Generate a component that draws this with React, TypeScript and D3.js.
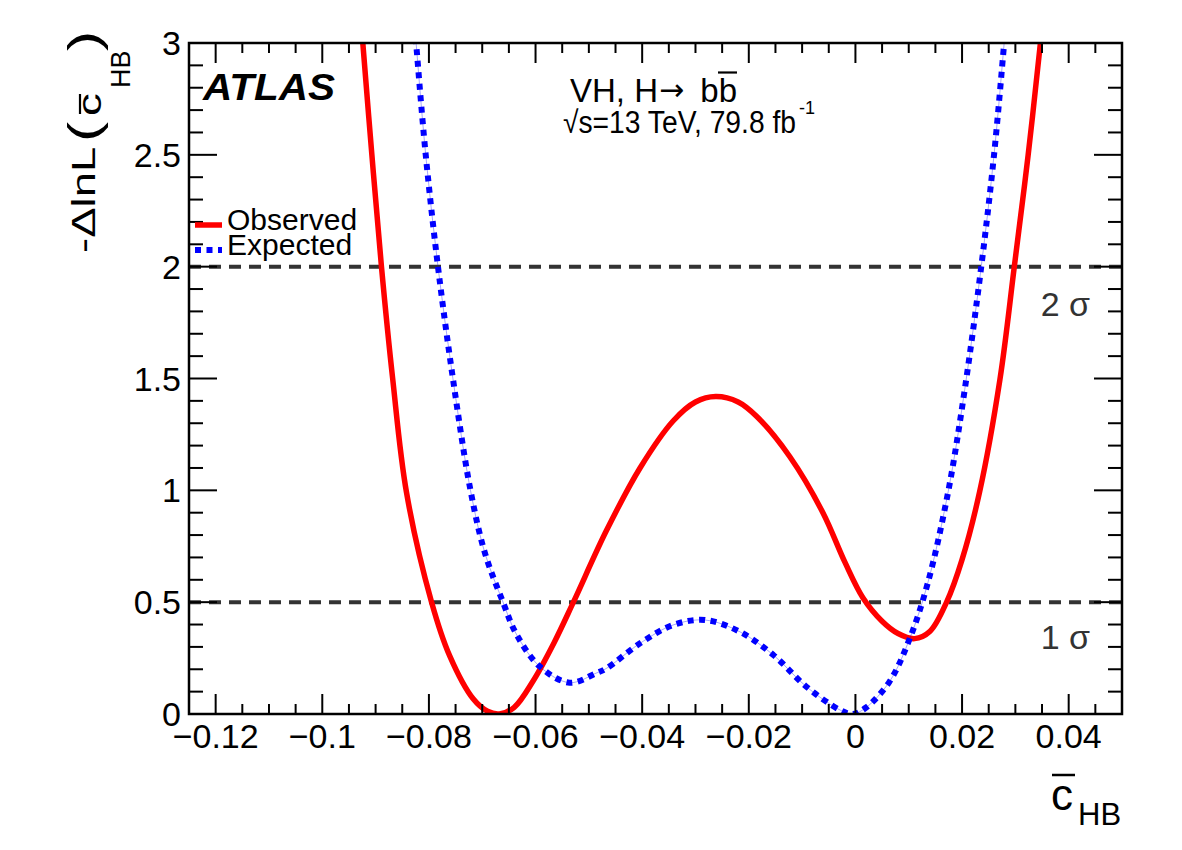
import React from "react";
import * as d3 from "d3";

// Observed curve  (-Delta lnL vs cbar_HB)
const obsX = [-0.0935, -0.0924, -0.0907, -0.0889, -0.0868, -0.0842, -0.0795, -0.0761, -0.0717, -0.0690, -0.0668, -0.0640, -0.0604, -0.0565, -0.0529, -0.0467, -0.0404, -0.0342, -0.0300, -0.0262, -0.0220, -0.0185, -0.0123, -0.0061, -0.0020, 0.0014, 0.0050, 0.0080, 0.0111, 0.0140, 0.0171, 0.0200, 0.0233, 0.0271, 0.0298, 0.0324, 0.0347, 0.0358];
const obsY = [3.32, 3.0, 2.5, 2.0, 1.5, 0.99, 0.5, 0.26, 0.068, 0.012, 0.0, 0.03, 0.15, 0.32, 0.5, 0.82, 1.10, 1.31, 1.395, 1.419, 1.395, 1.33, 1.15, 0.90, 0.68, 0.52, 0.415, 0.36, 0.337, 0.37, 0.5, 0.69, 0.994, 1.495, 2.0, 2.5, 3.0, 3.25];

// Expected curve
const expX = [-0.0835, -0.0824, -0.0806, -0.0783, -0.0755, -0.0722, -0.0695, -0.0661, -0.0636, -0.0592, -0.0536, -0.0486, -0.0467, -0.0404, -0.0342, -0.0282, -0.0217, -0.0154, -0.0092, -0.0029, -0.0005, 0.0020, 0.0064, 0.0102, 0.0136, 0.0174, 0.0205, 0.0236, 0.0260, 0.0279, 0.0288];
const expY = [3.33, 3.0, 2.5, 2.0, 1.5, 1.0, 0.72, 0.5, 0.357, 0.212, 0.14, 0.183, 0.204, 0.316, 0.398, 0.42, 0.368, 0.264, 0.122, 0.018, 0.0, 0.029, 0.145, 0.338, 0.588, 0.994, 1.45, 2.0, 2.5, 3.0, 3.25];

const xTicks = [-0.12, -0.1, -0.08, -0.06, -0.04, -0.02, 0, 0.02, 0.04];
const xTickLabels = ["\u22120.12", "\u22120.1", "\u22120.08", "\u22120.06", "\u22120.04", "\u22120.02", "0", "0.02", "0.04"];
const yTicks = [0, 0.5, 1, 1.5, 2, 2.5, 3];
const yTickLabels = ["0", "0.5", "1", "1.5", "2", "2.5", "3"];
const sigmaLevels = [0.5, 2];
const sigmaLabels = ["1 \u03c3", "2 \u03c3"];
const legendNames = ["Observed", "Expected"];

const W = 1182, H = 850;
const L = 189, R = 1122, T = 43, B = 714;
const FONT = "'Liberation Sans', Arial, Helvetica, sans-serif";

export default function App() {
  const x = d3.scaleLinear().domain([-0.125, 0.05]).range([L, R]);
  const y = d3.scaleLinear().domain([0, 3]).range([B, T]);
  const line = d3
    .line<[number, number]>()
    .x((d) => x(d[0]))
    .y((d) => y(d[1]))
    .curve(d3.curveCatmullRom.alpha(0.5));
  const obs = line(obsX.map((v, i) => [v, obsY[i]] as [number, number])) || "";
  const exp = line(expX.map((v, i) => [v, expY[i]] as [number, number])) || "";

  const xMinor = d3.range(-0.125, 0.0501, 0.005).map((v) => Math.round(v * 1000) / 1000);
  const yMinor = d3.range(0, 3.001, 0.1).map((v) => Math.round(v * 10) / 10);

  const tk = "#000";
  return (
    <svg width={W} height={H} style={{ position: "absolute", left: 0, top: 0, background: "#fff" }} fontFamily={FONT}>
      <defs>
        <clipPath id="frame">
          <rect x={L} y={T} width={R - L} height={B - T} />
        </clipPath>
      </defs>
      {/* sigma lines */}
      {sigmaLevels.map((s) => (
        <line key={s} x1={L} x2={R} y1={y(s)} y2={y(s)} stroke="#333" strokeWidth={4} strokeDasharray="12 8" />
      ))}
      {/* curves */}
      <g clipPath="url(#frame)">
        <path d={obs} fill="none" stroke="#ff0000" strokeWidth={5.5} />
        <path d={exp} fill="none" stroke="#0000ff" strokeWidth={1} strokeOpacity={0.35} />
        <path d={exp} fill="none" stroke="#0000ff" strokeWidth={6} strokeDasharray="6 5.5" />
      </g>
      {/* ticks */}
      {xMinor.map((v) => {
        const major = xTicks.some((t) => Math.abs(t - v) < 1e-6);
        const len = major ? 20 : 10;
        return (
          <g key={"xt" + v}>
            <line x1={x(v)} x2={x(v)} y1={B} y2={B - len} stroke={tk} strokeWidth={2} />
            <line x1={x(v)} x2={x(v)} y1={T} y2={T + len} stroke={tk} strokeWidth={2} />
          </g>
        );
      })}
      {yMinor.map((v) => {
        const major = yTicks.some((t) => Math.abs(t - v) < 1e-6);
        const len = major ? 28 : 14;
        return (
          <g key={"yt" + v}>
            <line x1={L} x2={L + len} y1={y(v)} y2={y(v)} stroke={tk} strokeWidth={2} />
            <line x1={R} x2={R - len} y1={y(v)} y2={y(v)} stroke={tk} strokeWidth={2} />
          </g>
        );
      })}
      <rect x={L} y={T} width={R - L} height={B - T} fill="none" stroke="#000" strokeWidth={2.5} />
      {/* tick labels */}
      {xTicks.map((v, i) => (
        <text key={"xl" + v} x={x(v)} y={748} fontSize={34} textAnchor="middle">
          {xTickLabels[i]}
        </text>
      ))}
      {yTicks.map((v, i) => (
        <text key={"yl" + v} x={181} y={y(v) + 12} fontSize={34} textAnchor="end">
          {yTickLabels[i]}
        </text>
      ))}
      {/* sigma labels */}
      {sigmaLevels.map((s, i) => (
        <text key={"sl" + s} x={1090} y={y(s) + (s === 2 ? 49 : 47)} fontSize={34} textAnchor="end" fill="#333">
          {sigmaLabels[i]}
        </text>
      ))}
      {/* ATLAS */}
      <text x={203} y={100} fontSize={36} fontWeight="bold" fontStyle="italic" textLength={132} lengthAdjust="spacingAndGlyphs">
        ATLAS
      </text>
      {/* process text */}
      <text x={570} y={101.5} fontSize={33}>VH, H</text>
      <text x={659} y={100} fontSize={30} fontFamily="'DejaVu Sans', sans-serif">{"\u2192"}</text>
      <text x={737} y={101.5} fontSize={33} textAnchor="end">bb</text>
      <line x1={718} x2={737} y1={72.5} y2={72.5} stroke="#000" strokeWidth={2.2} />
      <text x={563} y={133} fontSize={31} textLength={233} lengthAdjust="spacingAndGlyphs">
        {"\u221As=13 TeV, 79.8 fb"}
      </text>
      <text x={799} y={114} fontSize={18}>-1</text>
      {/* legend */}
      <line x1={195} x2={222} y1={225} y2={225} stroke="#ff0000" strokeWidth={5.5} />
      <line x1={195} x2={222} y1={250} y2={250} stroke="#0000ff" strokeWidth={6} strokeDasharray="6 5.5" />
      <text x={227} y={230} fontSize={30}>{legendNames[0]}</text>
      <text x={227} y={255} fontSize={30}>{legendNames[1]}</text>
      {/* x title */}
      <text x={1051} y={810} fontSize={44}>c</text>
      <line x1={1052} x2={1075} y1={775} y2={775} stroke="#000" strokeWidth={2.5} />
      <text x={1078} y={825} fontSize={31}>HB</text>
      {/* y title */}
      <g transform="translate(95,253) rotate(-90)">
        <g transform="scale(1.38,1)">
          <text x={0} y={0} fontSize={33}>{"-\u0394lnL"}</text>
          <text x={80.4} y={4} fontSize={44}>(</text>
          <text x={99.3} y={6} fontSize={33}>c</text>
          <text x={146.4} y={4} fontSize={44}>)</text>
        </g>
        <line x1={139} x2={159} y1={-15} y2={-15} stroke="#000" strokeWidth={2.2} />
        <text x={165} y={35} fontSize={27}>HB</text>
      </g>
    </svg>
  );
}
